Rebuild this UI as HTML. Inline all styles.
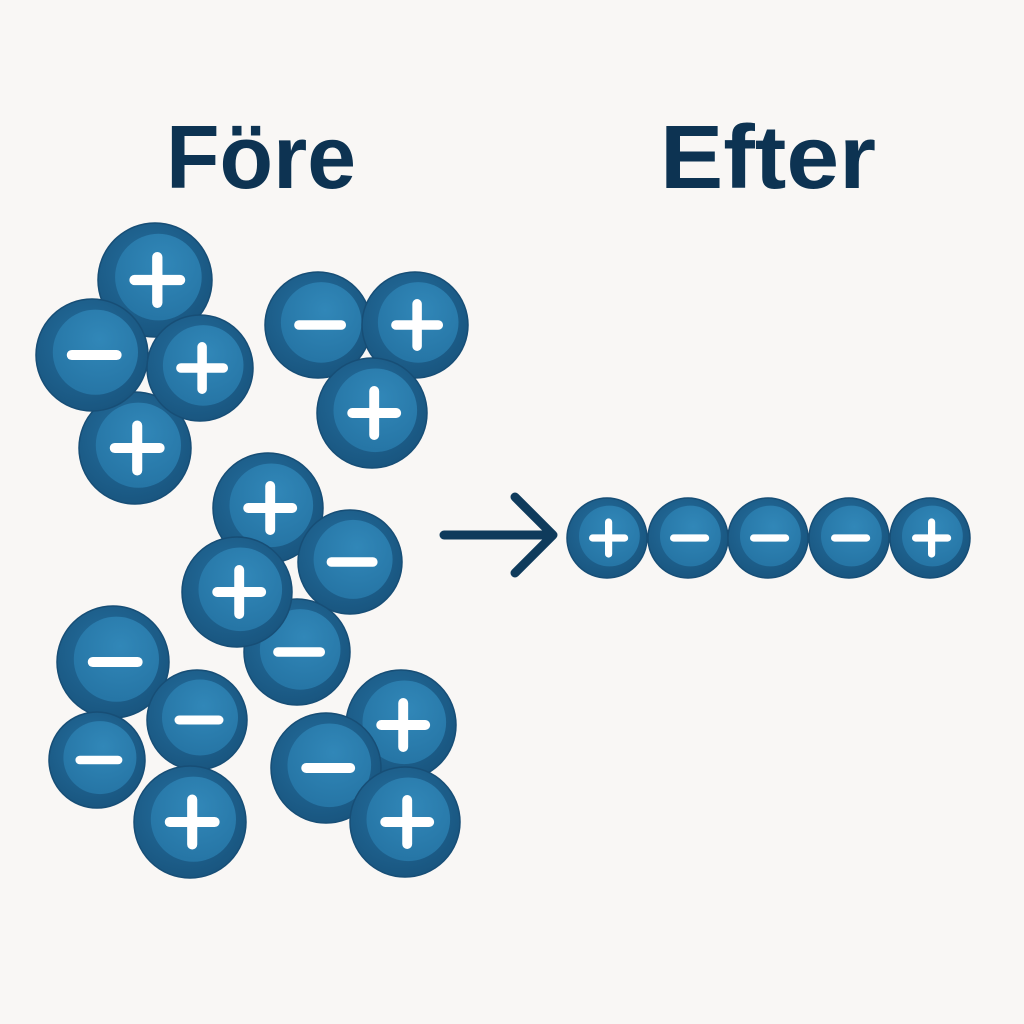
<!DOCTYPE html>
<html><head><meta charset="utf-8"><style>
html,body{margin:0;padding:0;background:#f9f7f5;}
svg{display:block}
</style></head><body>
<svg width="1024" height="1024" viewBox="0 0 1024 1024" xmlns="http://www.w3.org/2000/svg">
<defs>
<radialGradient id="o" cx="0.45" cy="0.4" r="0.6"><stop offset="0" stop-color="#2570a0"/><stop offset="1" stop-color="#195680"/></radialGradient>
<radialGradient id="i" cx="0.55" cy="0.35" r="0.7"><stop offset="0" stop-color="#3187b8"/><stop offset="1" stop-color="#2574a4"/></radialGradient>
</defs>
<rect width="1024" height="1024" fill="#f9f7f5"/>
<text x="166" y="188" font-family="Liberation Sans, sans-serif" font-weight="bold" font-size="90" fill="#0d3352" textLength="190" lengthAdjust="spacingAndGlyphs">Före</text>
<text x="660" y="188" font-family="Liberation Sans, sans-serif" font-weight="bold" font-size="90" fill="#0d3352" textLength="216" lengthAdjust="spacingAndGlyphs">Efter</text>

<g stroke-linecap="round">
<circle cx="155" cy="280" r="57" fill="url(#o)" stroke="#174e76" stroke-width="1.5"/><circle cx="158.4" cy="277.1" r="43.3" fill="url(#i)"/><path d="M134.5 280 H180.1 M157.3 257.2 V302.8" stroke="#fff" stroke-width="10.3" fill="none"/>
<circle cx="135" cy="448" r="56" fill="url(#o)" stroke="#174e76" stroke-width="1.5"/><circle cx="138.4" cy="445.2" r="42.6" fill="url(#i)"/><path d="M114.8 448 H159.6 M137.2 425.6 V470.4" stroke="#fff" stroke-width="10.1" fill="none"/>
<circle cx="92" cy="355" r="56" fill="url(#o)" stroke="#174e76" stroke-width="1.5"/><circle cx="95.4" cy="352.2" r="42.6" fill="url(#i)"/><path d="M71.8 355 H116.6" stroke="#fff" stroke-width="10.1" fill="none"/>
<circle cx="200" cy="368" r="53" fill="url(#o)" stroke="#174e76" stroke-width="1.5"/><circle cx="203.2" cy="365.4" r="40.3" fill="url(#i)"/><path d="M180.9 368 H223.3 M202.1 346.8 V389.2" stroke="#fff" stroke-width="9.5" fill="none"/>

<circle cx="318" cy="325" r="53" fill="url(#o)" stroke="#174e76" stroke-width="1.5"/><circle cx="321.2" cy="322.4" r="40.3" fill="url(#i)"/><path d="M298.9 325 H341.3" stroke="#fff" stroke-width="9.5" fill="none"/>
<circle cx="415" cy="325" r="53" fill="url(#o)" stroke="#174e76" stroke-width="1.5"/><circle cx="418.2" cy="322.4" r="40.3" fill="url(#i)"/><path d="M395.9 325 H438.3 M417.1 303.8 V346.2" stroke="#fff" stroke-width="9.5" fill="none"/>
<circle cx="372" cy="413" r="55" fill="url(#o)" stroke="#174e76" stroke-width="1.5"/><circle cx="375.3" cy="410.3" r="41.8" fill="url(#i)"/><path d="M352.2 413 H396.2 M374.2 391 V435" stroke="#fff" stroke-width="9.9" fill="none"/>

<circle cx="268" cy="508" r="55" fill="url(#o)" stroke="#174e76" stroke-width="1.5"/><circle cx="271.3" cy="505.3" r="41.8" fill="url(#i)"/><path d="M248.2 508 H292.2 M270.2 486 V530" stroke="#fff" stroke-width="9.9" fill="none"/>
<circle cx="350" cy="562" r="52" fill="url(#o)" stroke="#174e76" stroke-width="1.5"/><circle cx="353.1" cy="559.4" r="39.5" fill="url(#i)"/><path d="M331.3 562 H372.9" stroke="#fff" stroke-width="9.4" fill="none"/>
<circle cx="297" cy="652" r="53" fill="url(#o)" stroke="#174e76" stroke-width="1.5"/><circle cx="300.2" cy="649.4" r="40.3" fill="url(#i)"/><path d="M277.9 652 H320.3" stroke="#fff" stroke-width="9.5" fill="none"/>
<circle cx="237" cy="592" r="55" fill="url(#o)" stroke="#174e76" stroke-width="1.5"/><circle cx="240.3" cy="589.3" r="41.8" fill="url(#i)"/><path d="M217.2 592 H261.2 M239.2 570 V614" stroke="#fff" stroke-width="9.9" fill="none"/>

<circle cx="113" cy="662" r="56" fill="url(#o)" stroke="#174e76" stroke-width="1.5"/><circle cx="116.4" cy="659.2" r="42.6" fill="url(#i)"/><path d="M92.8 662 H137.6" stroke="#fff" stroke-width="10.1" fill="none"/>
<circle cx="197" cy="720" r="50" fill="url(#o)" stroke="#174e76" stroke-width="1.5"/><circle cx="200" cy="717.5" r="38" fill="url(#i)"/><path d="M179 720 H219" stroke="#fff" stroke-width="9" fill="none"/>
<circle cx="97" cy="760" r="48" fill="url(#o)" stroke="#174e76" stroke-width="1.5"/><circle cx="99.9" cy="757.6" r="36.5" fill="url(#i)"/><path d="M79.7 760 H118.1" stroke="#fff" stroke-width="8.6" fill="none"/>
<circle cx="190" cy="822" r="56" fill="url(#o)" stroke="#174e76" stroke-width="1.5"/><circle cx="193.4" cy="819.2" r="42.6" fill="url(#i)"/><path d="M169.8 822 H214.6 M192.2 799.6 V844.4" stroke="#fff" stroke-width="10.1" fill="none"/>

<circle cx="401" cy="725" r="55" fill="url(#o)" stroke="#174e76" stroke-width="1.5"/><circle cx="404.3" cy="722.3" r="41.8" fill="url(#i)"/><path d="M381.2 725 H425.2 M403.2 703 V747" stroke="#fff" stroke-width="9.9" fill="none"/>
<circle cx="326" cy="768" r="55" fill="url(#o)" stroke="#174e76" stroke-width="1.5"/><circle cx="329.3" cy="765.3" r="41.8" fill="url(#i)"/><path d="M306.2 768 H350.2" stroke="#fff" stroke-width="9.9" fill="none"/>
<circle cx="405" cy="822" r="55" fill="url(#o)" stroke="#174e76" stroke-width="1.5"/><circle cx="408.3" cy="819.3" r="41.8" fill="url(#i)"/><path d="M385.2 822 H429.2 M407.2 800 V844" stroke="#fff" stroke-width="9.9" fill="none"/>

<circle cx="607" cy="538" r="40" fill="url(#o)" stroke="#174e76" stroke-width="1.5"/><circle cx="609.4" cy="536" r="30.4" fill="url(#i)"/><path d="M592.6 538 H624.6 M608.6 522 V554" stroke="#fff" stroke-width="7.2" fill="none"/>
<circle cx="688" cy="538" r="40" fill="url(#o)" stroke="#174e76" stroke-width="1.5"/><circle cx="690.4" cy="536" r="30.4" fill="url(#i)"/><path d="M673.6 538 H705.6" stroke="#fff" stroke-width="7.2" fill="none"/>
<circle cx="768" cy="538" r="40" fill="url(#o)" stroke="#174e76" stroke-width="1.5"/><circle cx="770.4" cy="536" r="30.4" fill="url(#i)"/><path d="M753.6 538 H785.6" stroke="#fff" stroke-width="7.2" fill="none"/>
<circle cx="849" cy="538" r="40" fill="url(#o)" stroke="#174e76" stroke-width="1.5"/><circle cx="851.4" cy="536" r="30.4" fill="url(#i)"/><path d="M834.6 538 H866.6" stroke="#fff" stroke-width="7.2" fill="none"/>
<circle cx="930" cy="538" r="40" fill="url(#o)" stroke="#174e76" stroke-width="1.5"/><circle cx="932.4" cy="536" r="30.4" fill="url(#i)"/><path d="M915.6 538 H947.6 M931.6 522 V554" stroke="#fff" stroke-width="7.2" fill="none"/>
</g>

<path d="M444 535 H553 M515 497 L553 535 L515 573" fill="none" stroke="#0f3b5c" stroke-width="9" stroke-linecap="round" stroke-linejoin="round"/>
</svg>
</body></html>
